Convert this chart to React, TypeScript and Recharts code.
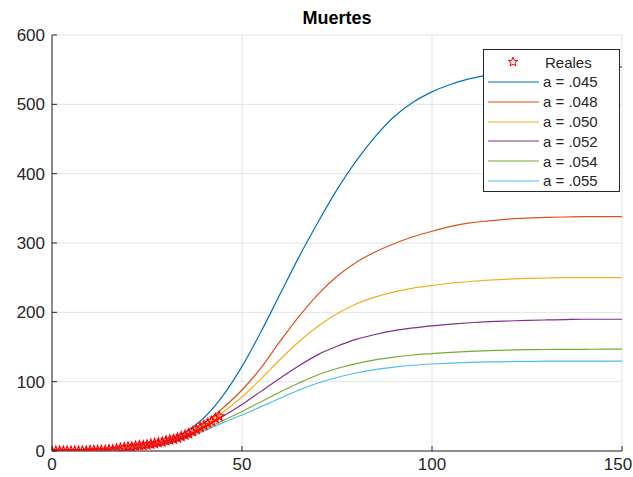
import { ComposedChart, Line, Scatter, XAxis, YAxis, CartesianGrid, Legend } from "recharts"

// model time axis (days)
const modelDays = [0, 5, 10, 15, 20, 25, 30, 35, 40, 45, 50, 55, 60, 65, 70, 75, 80, 85, 90, 95, 100, 105, 110, 115, 120, 125, 130, 135, 140, 145, 150]

// a = .045 ... a = .055
const a045 = [0, 0, 1, 2, 4, 8, 14, 27, 48, 80, 122, 172, 226, 280, 330, 377, 418, 453, 482, 503, 518, 529, 537, 542.5, 546.5, 549.5, 551.5, 552.7, 553.4, 553.8, 554]
const a048 = [0, 0, 1, 2, 4, 7, 13, 23, 40, 62, 88, 120, 158, 194, 226, 252, 272, 287, 299, 309, 317, 324, 329, 332, 334.5, 336, 337, 337.5, 338, 338, 338]
const a050 = [0, 0, 1, 2, 4, 6, 12, 21, 37, 56, 78, 104, 132, 158, 180, 198, 212, 222, 229.5, 235, 239, 242, 244.5, 246.5, 248, 249, 249.5, 250, 250, 250, 250]
const a052 = [0, 0, 1, 2, 3, 6, 11, 20, 34, 50, 67, 86, 105, 123, 139, 151, 161, 168, 173.5, 177.5, 180.5, 183, 185, 186.5, 187.5, 188.5, 189, 189.5, 190, 190, 190]
const a054 = [0, 0, 1, 2, 3, 6, 10, 18, 31, 44, 57, 71, 85, 98, 110, 119, 126, 131.5, 135.5, 138.5, 140.5, 142.3, 143.7, 144.8, 145.6, 146.1, 146.4, 146.6, 146.7, 146.8, 146.8]
const a055 = [0, 0, 1, 2, 3, 5, 10, 17, 29, 41, 52, 64, 76, 88, 98, 106, 112.5, 117.5, 121, 123.7, 125.5, 126.8, 127.8, 128.5, 129, 129.3, 129.5, 129.6, 129.7, 129.7, 129.7]

// observed deaths, day 0..44
const reales = [0, 0, 0, 0, 0, 0, 0, 0, 0, 0, 1, 1, 1, 1, 1, 2, 2, 3, 4, 5, 6, 6, 7, 8, 8, 9, 10, 11, 12, 13, 15, 16, 17, 19, 21, 23, 25, 28, 31, 34, 37, 40, 43, 47, 50]

const xTicks = [0, 50, 100, 150]
const yTicks = [0, 100, 200, 300, 400, 500, 600]

const series = [
    { name: "a = .045", values: a045, color: "#0072BD" },
    { name: "a = .048", values: a048, color: "#D95319" },
    { name: "a = .050", values: a050, color: "#EDB120" },
    { name: "a = .052", values: a052, color: "#7E2F8E" },
    { name: "a = .054", values: a054, color: "#77AC30" },
    { name: "a = .055", values: a055, color: "#4DBEEE" },
]

const FONT = '"Liberation Sans", Arial, Helvetica, sans-serif'
const AXIS = "#262626"

const realData = reales.map((y, i) => ({ x: i, y }))

function starPoints(cx: number, cy: number, R: number, r: number) {
    const pts: string[] = []
    for (let k = 0; k < 10; k++) {
        const rad = k % 2 === 0 ? R : r
        const ang = -Math.PI / 2 + (k * Math.PI) / 5
        pts.push(`${cx + rad * Math.cos(ang)},${cy + rad * Math.sin(ang)}`)
    }
    return pts.join(" ")
}

const StarShape = (props: any) => {
    const { cx, cy } = props
    if (cx == null || cy == null) return null
    return <polygon points={starPoints(cx, cy, 5, 2.1)} fill="none" stroke="#FF0000" strokeWidth={1.1} />
}

const BottomTick = ({ x, y, payload }: any) => {
    // keep the last label inside the picture, as in the reference
    const tx = Math.min(x, 618)
    return (
        <g>
            <line x1={x} y1={y} x2={x} y2={y - 5} stroke={AXIS} />
            <text x={tx} y={y + 19} textAnchor="middle" fontSize={17} fill={AXIS} fontFamily={FONT}>
                {payload.value}
            </text>
        </g>
    )
}

const TopTick = ({ x, y }: any) => <line x1={x} y1={y} x2={x} y2={y + 5} stroke={AXIS} />

const LeftTick = ({ x, y, payload }: any) => (
    <g>
        <line x1={x} y1={y} x2={x + 5} y2={y} stroke={AXIS} />
        <text x={x - 7} y={y + 6} textAnchor="end" fontSize={17} fill={AXIS} fontFamily={FONT}>
            {payload.value}
        </text>
    </g>
)

const RightTick = ({ x, y }: any) => <line x1={x} y1={y} x2={x - 5} y2={y} stroke={AXIS} />

const LegendBox = () => (
    <div
        style={{
            border: `1px solid ${AXIS}`,
            background: "#fff",
            width: 137,
            height: 143,
            boxSizing: "border-box",
            paddingTop: 2,
            fontFamily: FONT,
            fontSize: 15,
            color: AXIS,
        }}
    >
        <div style={{ display: "flex", alignItems: "center", height: 20 }}>
            <svg width={58} height={20}>
                <polygon points={starPoints(29, 10, 5, 2.1)} fill="none" stroke="#FF0000" />
            </svg>
            <span style={{ marginLeft: 3 }}>Reales</span>
        </div>
        {series.map((s) => (
            <div key={s.name} style={{ display: "flex", alignItems: "center", height: 19.8 }}>
                <svg width={59} height={20}>
                    <line x1={4} y1={10} x2={55} y2={10} stroke={s.color} strokeWidth={1.2} />
                </svg>
                <span>{s.name}</span>
            </div>
        ))}
    </div>
)

export default function App() {
    return (
        <div style={{ position: "absolute", left: 0, top: 0, width: 633, height: 477, background: "#fff" }}>
            <div
                style={{
                    position: "absolute",
                    left: 52,
                    width: 570,
                    top: 8,
                    textAlign: "center",
                    fontFamily: FONT,
                    fontWeight: "bold",
                    fontSize: 18,
                    color: "#000",
                }}
            >
                Muertes
            </div>
            <ComposedChart width={633} height={477} margin={{ top: 35, right: 11, bottom: 0, left: 0 }}>
                <CartesianGrid stroke="#e3e3e3" strokeWidth={1} />
                <XAxis
                    dataKey="x"
                    type="number"
                    domain={[0, 150]}
                    ticks={xTicks}
                    interval={0}
                    height={26}
                    tickSize={0}
                    tickMargin={0}
                    tickLine={false}
                    tick={<BottomTick />}
                    axisLine={{ stroke: AXIS }}
                    allowDataOverflow
                />
                <XAxis
                    xAxisId="top"
                    orientation="top"
                    dataKey="x"
                    type="number"
                    domain={[0, 150]}
                    ticks={xTicks}
                    interval={0}
                    height={0}
                    tickSize={0}
                    tickMargin={0}
                    tickLine={false}
                    tick={<TopTick />}
                    axisLine={{ stroke: AXIS }}
                />
                <YAxis
                    type="number"
                    domain={[0, 600]}
                    ticks={yTicks}
                    interval={0}
                    width={52}
                    tickSize={0}
                    tickMargin={0}
                    tickLine={false}
                    tick={<LeftTick />}
                    axisLine={{ stroke: AXIS }}
                    allowDataOverflow
                />
                <YAxis
                    yAxisId="right"
                    orientation="right"
                    type="number"
                    domain={[0, 600]}
                    ticks={yTicks}
                    interval={0}
                    width={0}
                    tickSize={0}
                    tickMargin={0}
                    tickLine={false}
                    tick={<RightTick />}
                    axisLine={{ stroke: AXIS }}
                />
                {series.map((s) => (
                    <Line
                        key={s.name}
                        data={modelDays.map((x, i) => ({ x, y: s.values[i] }))}
                        dataKey="y"
                        name={s.name}
                        type="monotone"
                        stroke={s.color}
                        strokeWidth={1.2}
                        dot={false}
                        activeDot={false}
                        isAnimationActive={false}
                    />
                ))}
                <Scatter data={realData} dataKey="y" name="Reales" shape={<StarShape />} isAnimationActive={false} />
                <Legend
                    layout="vertical"
                    align="center"
                    verticalAlign="middle"
                    content={<LegendBox />}
                    wrapperStyle={{ position: "absolute", top: 49, left: 483, width: 137 }}
                />
            </ComposedChart>
        </div>
    )
}
